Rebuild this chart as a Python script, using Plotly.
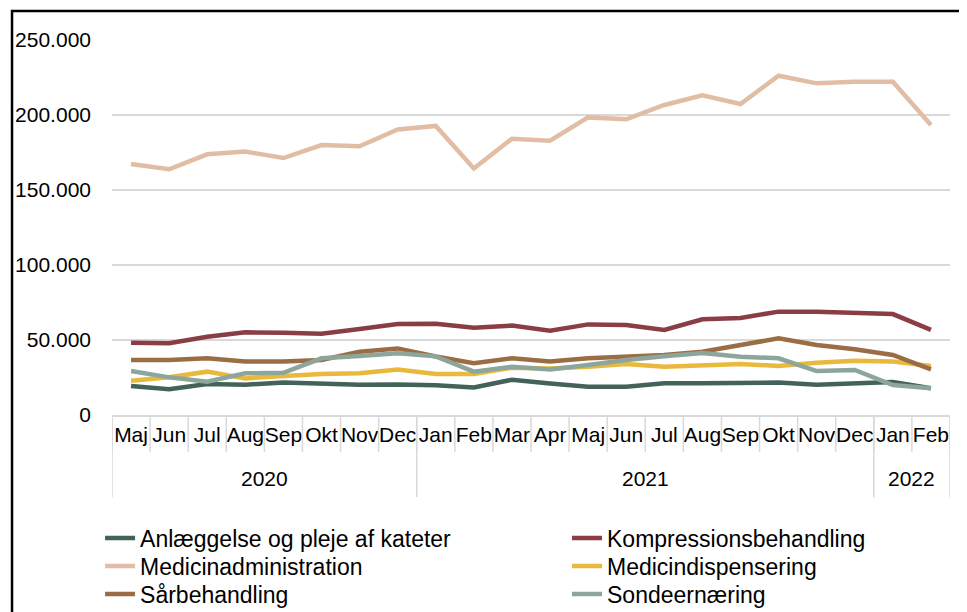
import plotly.graph_objects as go

years = ["2020"] * 8 + ["2021"] * 12 + ["2022"] * 2
months = ["Maj", "Jun", "Jul", "Aug", "Sep", "Okt", "Nov", "Dec",
          "Jan", "Feb", "Mar", "Apr", "Maj", "Jun", "Jul", "Aug", "Sep", "Okt", "Nov", "Dec",
          "Jan", "Feb"]

anlaeggelse = [19300, 17100, 20700, 20200, 21600, 20700, 20200, 20400, 19800, 18400, 23500,
               21000, 18900, 18900, 21100, 21100, 21600, 21600, 20200, 21100, 22000, 17800]
kompression = [48200, 47800, 52200, 55100, 54900, 54200, 57300, 60700, 60900, 58200, 59600,
               56200, 60400, 60000, 56700, 63800, 64700, 68900, 68900, 68400, 67300, 56700]
medicinadm = [167300, 163800, 173800, 175600, 171300, 180000, 179100, 190400, 192700, 164400, 184200,
              182900, 198400, 197100, 206700, 213100, 207300, 226200, 221100, 222200, 222200, 193300]
medicindisp = [22900, 25100, 28900, 24400, 26000, 27300, 27800, 30400, 27300, 27300, 31500,
               31000, 32200, 34000, 32200, 33300, 34000, 32700, 34900, 36200, 35600, 32700]
saarbeh = [36700, 36700, 37800, 35600, 35600, 36700, 42200, 44400, 39000, 34500, 37800,
           35600, 37800, 38900, 40000, 42200, 46700, 51100, 46700, 43800, 40000, 30400]
sondeern = [29300, 25100, 22200, 27800, 28100, 37800, 39300, 41100, 39100, 28900, 32200,
            30400, 33300, 36700, 39100, 41300, 38900, 37800, 29300, 30000, 20000, 17800]

series = [
    ("Anlæggelse og pleje af kateter", anlaeggelse, "#43625A"),
    ("Kompressionsbehandling", kompression, "#8B3D46"),
    ("Medicinadministration", medicinadm, "#E2BDA5"),
    ("Medicindispensering", medicindisp, "#E8B93C"),
    ("Sårbehandling", saarbeh, "#9B6D44"),
    ("Sondeernæring", sondeern, "#8DA69C"),
]

# unique category keys, month labels shown as tick text
keys = [f"{m} {y}" for m, y in zip(months, years)]

grey = "#D9D9D9"
font = "Liberation Sans, Arial, sans-serif"

fig = go.Figure()
legends = {}
for i, (name, vals, colour) in enumerate(series):
    lg = "legend" if i == 0 else f"legend{i + 1}"
    fig.add_trace(go.Scatter(
        x=keys, y=vals, name=name, mode="lines",
        line=dict(color=colour, width=4.5), legend=lg,
    ))
    # two columns, three rows below the chart (one legend per entry)
    col, row = i % 2, i // 2
    legends[lg] = dict(
        xref="container", yref="container",
        x=[0.0952, 0.5781][col], xanchor="left",
        y=[0.134, 0.0882, 0.0425][row], yanchor="middle",
        font=dict(size=23, family=font), bgcolor="rgba(0,0,0,0)",
    )

fig.update_layout(
    width=967, height=612,
    margin=dict(l=104, r=25, t=32, b=205, autoexpand=False),
    plot_bgcolor="white", paper_bgcolor="white",
    separators=",.",
    font=dict(family=font, size=21, color="black"),
    showlegend=True,
    xaxis=dict(
        type="category", showgrid=False, tickangle=0,
        tickvals=keys, ticktext=months,
        showline=True, linecolor=grey, linewidth=1.5,
        ticks="", tickfont=dict(size=21),
        range=[-0.5, len(keys) - 0.5],
    ),
    yaxis=dict(
        range=[0, 250000], tickvals=[0, 50000, 100000, 150000, 200000, 250000],
        tickformat=",d", showgrid=True, gridcolor=grey, gridwidth=1.5,
        zeroline=False, ticklabelstandoff=20, tickfont=dict(size=21),
    ),
    **legends,
)

# month separators below the axis
for b in range(len(keys) + 1):
    fig.add_shape(type="line", xref="x", yref="paper", x0=b - 0.5, x1=b - 0.5,
                  y0=0, y1=-0.0987, line=dict(color=grey, width=1.5))

# year groups: labels and long dividers
starts = [i for i in range(len(years)) if i == 0 or years[i] != years[i - 1]]
bounds = starts + [len(years)]
for b in bounds:
    fig.add_shape(type="line", xref="x", yref="paper", x0=b - 0.5, x1=b - 0.5,
                  y0=0, y1=-0.219, line=dict(color=grey, width=1.5))
for s, e in zip(bounds[:-1], bounds[1:]):
    fig.add_annotation(text=years[s], xref="x", yref="paper", x=(s + e - 1) / 2, y=-0.168,
                       yanchor="middle", showarrow=False, font=dict(size=21))

# outer frame and the (cut-off) figure caption above it
fig.add_shape(type="rect", xref="paper", yref="paper",
              x0=-0.1193, x1=1.0155, y0=-0.56, y1=1.0773,
              line=dict(color="black", width=2.5), fillcolor="rgba(0,0,0,0)")
fig.add_annotation(
    text="<b>Figur 4: Udvikling i antal (timer) pr. måned fordelt på ydelsestype, maj 2020 - februar 2022, Q</b>",
    xref="paper", yref="paper", x=-0.124, y=1.08, xanchor="left", yanchor="bottom",
    showarrow=False, font=dict(size=21, color="black"),
)

fig.write_html("out.html")
